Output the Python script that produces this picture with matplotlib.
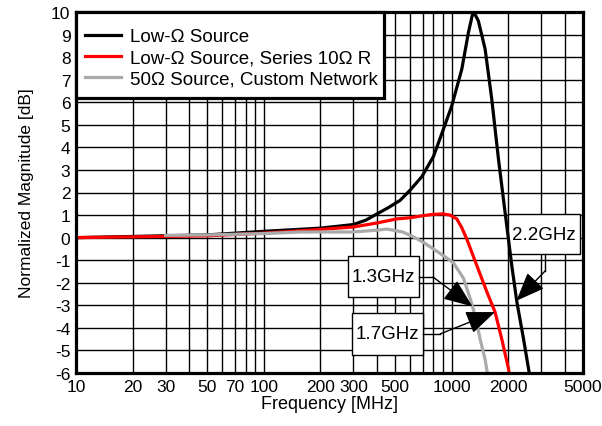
import matplotlib
matplotlib.use("Agg")
import matplotlib.pyplot as plt
from matplotlib.patches import Rectangle

plt.rcParams['font.family'] = ['Liberation Sans', 'DejaVu Sans']

# ---- data ----
black_f = [10, 50, 100, 200, 300, 350, 400, 460, 531, 600, 693, 800, 885, 1000,
           1132, 1228, 1295, 1340, 1387, 1506, 1634, 1774, 1925, 2090, 2223,
           2413, 2563, 2650]
black_v = [0.0, 0.12, 0.28, 0.42, 0.58, 0.78, 1.05, 1.33, 1.65, 2.1, 2.7, 3.6, 4.6,
           5.83, 7.47, 9.1, 9.95, 9.85, 9.6, 8.36, 6.14, 3.48, 1.1, -1.26, -2.85,
           -4.5, -5.8, -6.5]

red_f = [10, 50, 100, 156, 299, 400, 511, 600, 700, 795, 900, 980, 1064, 1130,
         1203, 1361, 1538, 1702, 1848, 2005, 2050]
red_v = [0.0, 0.08, 0.2, 0.3, 0.47, 0.65, 0.83, 0.88, 0.97, 1.03, 1.05, 1.0, 0.83,
         0.45, -0.06, -1.24, -2.4, -3.3, -4.5, -5.8, -6.3]

gray_f = [30, 50, 100, 156, 299, 400, 451, 549, 620, 704, 867, 1018, 1155, 1254,
          1333, 1417, 1506, 1570]
gray_v = [0.1, 0.12, 0.18, 0.25, 0.25, 0.33, 0.38, 0.25, 0.05, -0.2, -0.7, -1.1,
          -1.8, -2.7, -3.46, -4.5, -5.4, -6.3]

labels = ['Low-\u03a9 Source', 'Low-\u03a9 Source, Series 10\u03a9 R',
          '50\u03a9 Source, Custom Network']

xticks = [10, 20, 30, 50, 70, 100, 200, 300, 500, 1000, 2000, 5000]
xminor = [40, 60, 80, 90, 400, 600, 700, 800, 900, 3000, 4000]
yticks = list(range(-6, 11))

fig = plt.figure(figsize=(6.02, 4.27), dpi=100)
ax = fig.add_axes([76/602, 53/427, 507/602, 361/427])
ax.set_xscale('log')
ax.set_xlim(10, 5000)
ax.set_ylim(-6, 10)

ax.plot(black_f, black_v, color='black', lw=2.3, label=labels[0], zorder=5)
ax.plot(red_f, red_v, color='#ff0000', lw=2.3, label=labels[1], zorder=5)
ax.plot(gray_f, gray_v, color='#aaaaaa', lw=2.3, label=labels[2], zorder=5)

ax.set_xticks(xticks)
ax.set_xticklabels([str(t) for t in xticks])
ax.set_xticks(xminor, minor=True)
ax.set_xticklabels([], minor=True)
ax.set_yticks(yticks)
ax.set_yticklabels([str(t) for t in yticks])
ax.tick_params(which='both', length=0, labelsize=12.5, pad=4)
ax.grid(True, which='both', color='black', lw=1.0)
ax.set_axisbelow(True)
for s in ax.spines.values():
    s.set_linewidth(2.3)
    s.set_zorder(10)

ax.set_xlabel('Frequency [MHz]', fontsize=13, labelpad=1)
ax.set_ylabel('Normalized Magnitude [dB]', fontsize=12.5, labelpad=12)

# legend frame drawn separately
frame = Rectangle((0, 0.762), 0.6075, 0.238, transform=ax.transAxes,
                  facecolor='white', edgecolor='black', lw=2.3, zorder=19,
                  clip_on=False)
ax.add_patch(frame)
leg = ax.legend(loc='upper left', bbox_to_anchor=(0.0178, 0.955),
                borderaxespad=0, borderpad=0, frameon=False, fontsize=13.5,
                handlelength=1.9, handletextpad=0.5, labelspacing=0.22)
leg.set_zorder(20)

# annotation boxes
def box(x0, x1, y0, y1, text):
    r = Rectangle((x0, y0), x1 - x0, y1 - y0, facecolor='white',
                  edgecolor='black', lw=1.0, zorder=3)
    ax.add_patch(r)
    xc = (x0 * x1) ** 0.5
    ax.text(xc, (y0 + y1) / 2, text, ha='center', va='center', fontsize=13.5,
            zorder=4)

arrow = dict(arrowstyle='-|>,head_length=1.0,head_width=0.4', color='black',
             lw=1.0, mutation_scale=18, shrinkA=0, shrinkB=0)

box(281, 670, -2.63, -0.82, '1.3GHz')
ax.plot([670, 796], [-1.75, -1.75], color='black', lw=1.0, zorder=6)
ax.annotate('', xy=(1290, -3.05), xytext=(796, -1.75), arrowprops=arrow, zorder=6)

box(295, 705, -5.2, -3.34, '1.7GHz')
ax.plot([705, 867], [-4.27, -4.27], color='black', lw=1.0, zorder=6)
ax.annotate('', xy=(1700, -3.3), xytext=(867, -4.27), arrowprops=arrow, zorder=6)

box(1996, 4830, -0.73, 1.05, '2.2GHz')
ax.plot([3141, 3141], [-0.73, -1.48], color='black', lw=1.0, zorder=6)
ax.annotate('', xy=(2210, -2.8), xytext=(3141, -1.48), arrowprops=arrow, zorder=6)

fig.savefig('out.png', dpi=100)
